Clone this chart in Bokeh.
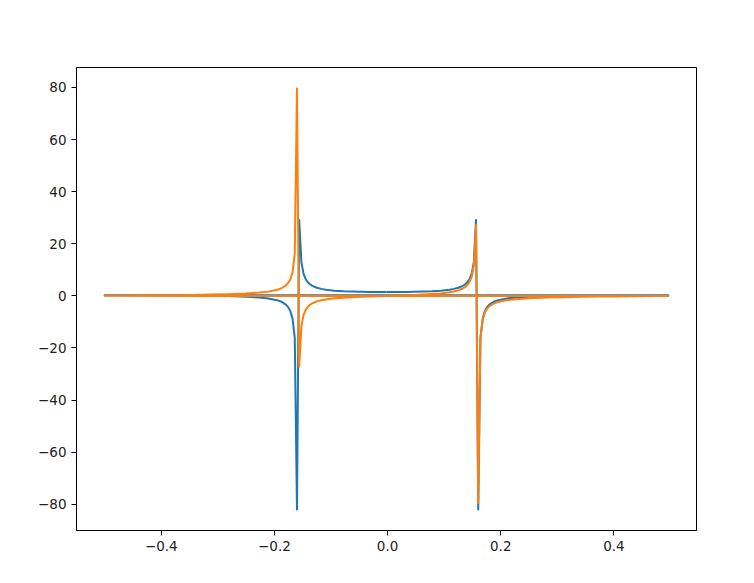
from bokeh.plotting import figure
from bokeh.models import FixedTicker, Range1d
from bokeh.embed import file_html
from bokeh.resources import INLINE

# frequency bins (in plotting order: non-negative, then negative)
freq = [0.0, 0.015625, 0.03125, 0.046875, 0.0625, 0.078125, 0.09375, 0.109375, 0.1171875,
        0.125, 0.1328125, 0.13671875, 0.140625, 0.14453125, 0.1484375, 0.15234375, 0.15625,
        0.16015625, 0.1640625, 0.16796875, 0.171875, 0.17578125, 0.1796875, 0.1875, 0.1953125,
        0.2109375, 0.2265625, 0.25, 0.28125, 0.3125, 0.34375, 0.375, 0.40625, 0.4375, 0.46875,
        0.49609375,
        -0.5, -0.46875, -0.4375, -0.40625, -0.375, -0.34375, -0.3125, -0.28125, -0.25,
        -0.2265625, -0.2109375, -0.1953125, -0.1875, -0.1796875, -0.17578125, -0.171875,
        -0.16796875, -0.1640625, -0.16015625, -0.15625, -0.15234375, -0.1484375, -0.14453125,
        -0.140625, -0.13671875, -0.1328125, -0.125, -0.1171875, -0.109375, -0.09375, -0.078125,
        -0.0625, -0.046875, -0.03125, -0.015625, -0.00390625]

real_part = [1.451, 1.461, 1.493, 1.550, 1.640, 1.780, 2.002, 2.380, 2.680, 3.122,
             3.833, 4.376, 5.149, 6.338, 8.397, 12.821, 29.153, -81.975,
             -16.199, -8.729, -5.849, -4.324, -3.381, -2.276, -1.651, -0.972, -0.612, -0.310,
             -0.095, 0.026, 0.100, 0.149, 0.181, 0.201, 0.212, 0.216,
             0.216, 0.212, 0.201, 0.181, 0.149, 0.100, 0.026, -0.095, -0.310, -0.612,
             -0.972, -1.651, -2.276, -3.381, -4.324, -5.849, -8.729, -16.199, -81.975,
             29.153, 12.821, 8.397, 6.338, 5.149, 4.376, 3.833, 3.122, 2.680, 2.380, 2.002,
             1.780, 1.640, 1.550, 1.493, 1.461, 1.452]

imag_part = [0.0, 0.108, 0.221, 0.348, 0.498, 0.689, 0.953, 1.362, 1.672, 2.118,
             2.820, 3.352, 4.105, 5.256, 7.244, 11.504, 27.208, -79.574,
             -16.356, -9.170, -6.394, -4.921, -4.006, -2.928, -2.313, -1.630, -1.256, -0.925,
             -0.666, -0.500, -0.379, -0.283, -0.202, -0.131, -0.064, -0.008,
             0.0, 0.064, 0.131, 0.202, 0.283, 0.379, 0.500, 0.666, 0.925, 1.256,
             1.630, 2.313, 2.928, 4.006, 4.921, 6.394, 9.170, 16.356, 79.574,
             -27.208, -11.504, -7.244, -5.256, -4.105, -3.352, -2.820, -2.118, -1.672, -1.362,
             -0.953, -0.689, -0.498, -0.348, -0.221, -0.108, -0.027]

x_ticks = [-0.4, -0.2, 0.0, 0.2, 0.4]
x_labels = ["\u22120.4", "\u22120.2", "0.0", "0.2", "0.4"]
y_ticks = [-80, -60, -40, -20, 0, 20, 40, 60, 80]
y_labels = ["\u221280", "\u221260", "\u221240", "\u221220", "0", "20", "40", "60", "80"]

# axis limits with 5% margins (matplotlib style)
xmin, xmax = min(freq), max(freq)
ymin, ymax = min(real_part + imag_part), max(real_part + imag_part)
dx, dy = (xmax - xmin) * 0.05, (ymax - ymin) * 0.05

p = figure(width=746, height=575, output_backend="svg", toolbar_location=None,
           x_range=Range1d(xmin - dx, xmax + dx), y_range=Range1d(ymin - dy, ymax + dy))
p.min_border_left = 76
p.min_border_right = 50
p.min_border_top = 67
p.min_border_bottom = 45
p.background_fill_color = "white"
p.border_fill_color = "white"
p.outline_line_color = "black"
p.outline_line_alpha = 1.0
p.outline_line_width = 1
p.xgrid.visible = False
p.ygrid.visible = False

p.line(freq, real_part, line_color="#1f77b4", line_width=2, line_cap="square", line_join="round")
p.line(freq, imag_part, line_color="#ff7f0e", line_width=2, line_cap="square", line_join="round")

p.xaxis.ticker = FixedTicker(ticks=x_ticks)
p.xaxis.major_label_overrides = {t: l for t, l in zip(x_ticks, x_labels)}
p.yaxis.ticker = FixedTicker(ticks=y_ticks)
p.yaxis.major_label_overrides = {t: l for t, l in zip(y_ticks, y_labels)}

for ax in (p.xaxis, p.yaxis):
    ax.axis_line_color = "black"
    ax.major_tick_line_color = "black"
    ax.major_tick_out = 5
    ax.major_tick_in = 0
    ax.minor_tick_line_color = None
    ax.major_label_text_font = "DejaVu Sans"
    ax.major_label_text_font_size = "13.5px"
    ax.major_label_text_color = "#222222"
    ax.major_label_standoff = 5

open("out.html", "w").write(file_html(p, INLINE))
